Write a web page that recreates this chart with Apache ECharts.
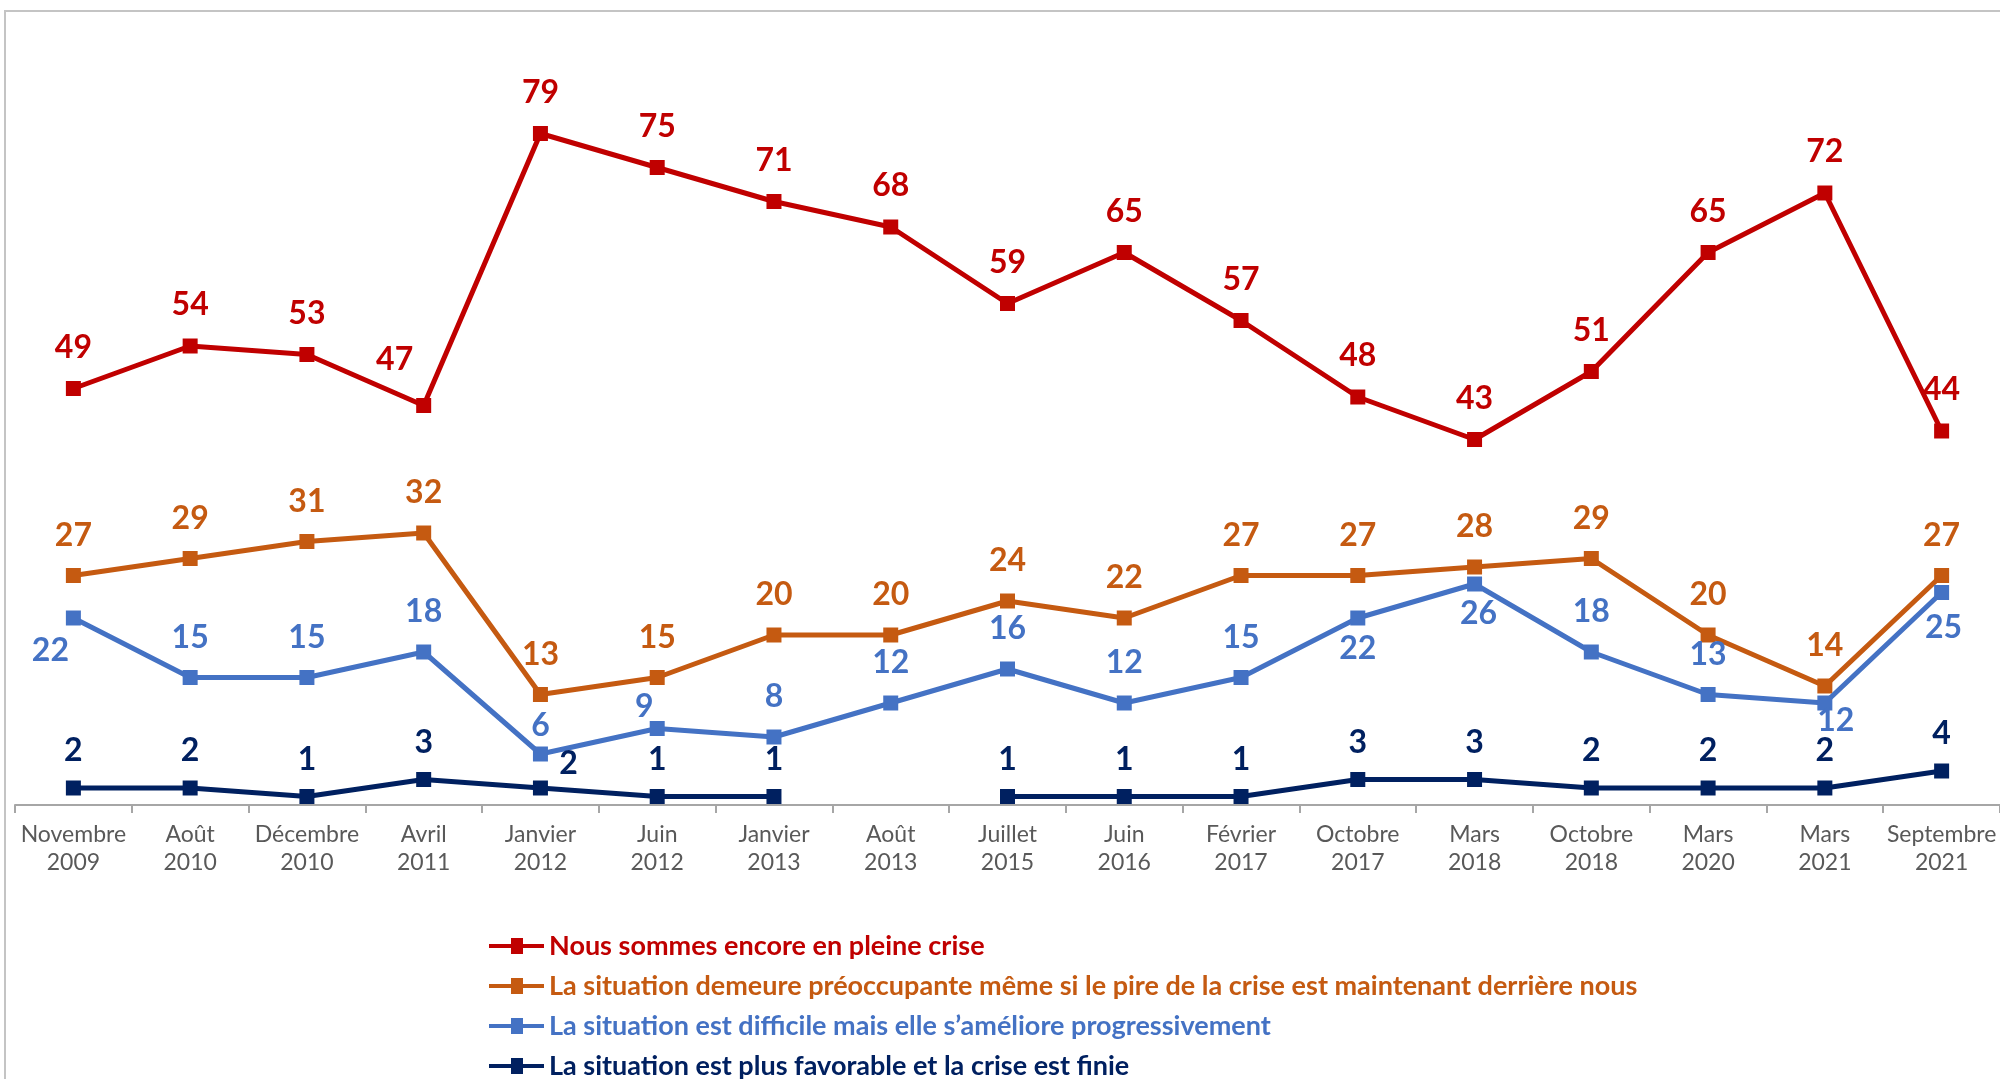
<!DOCTYPE html>
<html>
<head>
<meta charset="utf-8">
<script src="https://cdn.jsdelivr.net/npm/echarts@6/dist/echarts.min.js"></script>
<style>
  html, body { margin: 0; padding: 0; background: #ffffff; }
  #chart { width: 2000px; height: 1079px; }
</style>
</head>
<body>
<div id="chart"></div>
<script>
// Survey waves (x axis)
const categories = [
  'Novembre\n2009', 'Août\n2010', 'Décembre\n2010', 'Avril\n2011', 'Janvier\n2012',
  'Juin\n2012', 'Janvier\n2013', 'Août\n2013', 'Juillet\n2015', 'Juin\n2016',
  'Février\n2017', 'Octobre\n2017', 'Mars\n2018', 'Octobre\n2018', 'Mars\n2020',
  'Mars\n2021', 'Septembre\n2021'
];

// Series names
const seriesNames = [
  'Nous sommes encore en pleine crise',
  'La situation demeure préoccupante même si le pire de la crise est maintenant derrière nous',
  'La situation est difficile mais elle s’améliore progressivement',
  'La situation est plus favorable et la crise est finie'
];

// Values (%)
const enPleineCrise   = [49, 54, 53, 47, 79, 75, 71, 68, 59, 65, 57, 48, 43, 51, 65, 72, 44];
const preoccupante    = [27, 29, 31, 32, 13, 15, 20, 20, 24, 22, 27, 27, 28, 29, 20, 14, 27];
const difficile       = [22, 15, 15, 18, 6, 9, 8, 12, 16, 12, 15, 22, 26, 18, 13, 12, 25];
const plusFavorable   = [2, 2, 1, 3, 2, 1, 1, null, 1, 1, 1, 3, 3, 2, 2, 2, 4];

const colors = ['#C00000', '#C55A11', '#4472C4', '#002060'];
const labelFont = 'Lato';

// Default label offset per series, plus per-point adjustments
const defaultOffsets = [[0, -41], [0, -40], [0, -40], [0, -37]];
const offsetOverrides = [
  { 3: [-29, -46] },
  {},
  { 0: [-23, 33], 4: [0, -28], 5: [-13, -22], 11: [0, 31], 12: [4, 30], 15: [11, 18], 16: [2, 35] },
  { 4: [28, -24] }
];

function buildData(values, s) {
  return values.map(function (v, i) {
    if (v === null) return null;
    const off = offsetOverrides[s][i] || defaultOffsets[s];
    return { value: v, label: { offset: off } };
  });
}

const allValues = [enPleineCrise, preoccupante, difficile, plusFavorable];

const series = allValues.map(function (vals, s) {
  return {
    name: seriesNames[s],
    type: 'line',
    data: buildData(vals, s),
    connectNulls: false,
    symbol: 'rect',
    symbolSize: 15,
    color: colors[s],
    lineStyle: { width: 5, color: colors[s] },
    itemStyle: { color: colors[s] },
    emphasis: { disabled: true },
    label: {
      show: true,
      position: 'inside',
      color: colors[s],
      fontFamily: labelFont,
      fontWeight: 'bold',
      fontSize: 32
    },
    animation: false,
    z: 2 + s
  };
});

const chart = echarts.init(document.getElementById('chart'), null, { renderer: 'canvas' });

chart.setOption({
  backgroundColor: '#ffffff',
  animation: false,
  graphic: [{
    type: 'rect',
    shape: { x: 5, y: 11, width: 2100, height: 1200 },
    style: { fill: 'none', stroke: '#c4c4c4', lineWidth: 2 },
    silent: true,
    z: 0
  }],
  grid: { left: 15, top: 40, width: 1986, height: 765, containLabel: false },
  xAxis: {
    type: 'category',
    data: categories,
    boundaryGap: true,
    axisLine: { show: true, lineStyle: { color: '#a6a6a6', width: 2 } },
    axisTick: { show: true, length: 8, lineStyle: { color: '#a6a6a6', width: 2 } },
    axisLabel: {
      color: '#595959',
      fontFamily: labelFont,
      fontSize: 23,
      lineHeight: 28,
      margin: 16,
      interval: 0
    },
    splitLine: { show: false }
  },
  yAxis: {
    type: 'value',
    min: 0,
    max: 90,
    show: false,
    splitLine: { show: false }
  },
  legend: {
    orient: 'vertical',
    left: 484,
    top: 926,
    height: 400,
    itemWidth: 55,
    itemHeight: 16,
    itemGap: 10,
    data: seriesNames.map(function (n, s) {
      return {
        name: n,
        icon: 'path://M0,6 L22,6 L22,0 L34,0 L34,6 L55,6 L55,10 L34,10 L34,16 L22,16 L22,10 L0,10 Z',
        textStyle: { color: colors[s] }
      };
    }),
    textStyle: {
      fontFamily: labelFont,
      fontWeight: 'bold',
      fontSize: 27,
      lineHeight: 30
    },
    selectedMode: false
  },
  series: series
});
</script>
</body>
</html>
